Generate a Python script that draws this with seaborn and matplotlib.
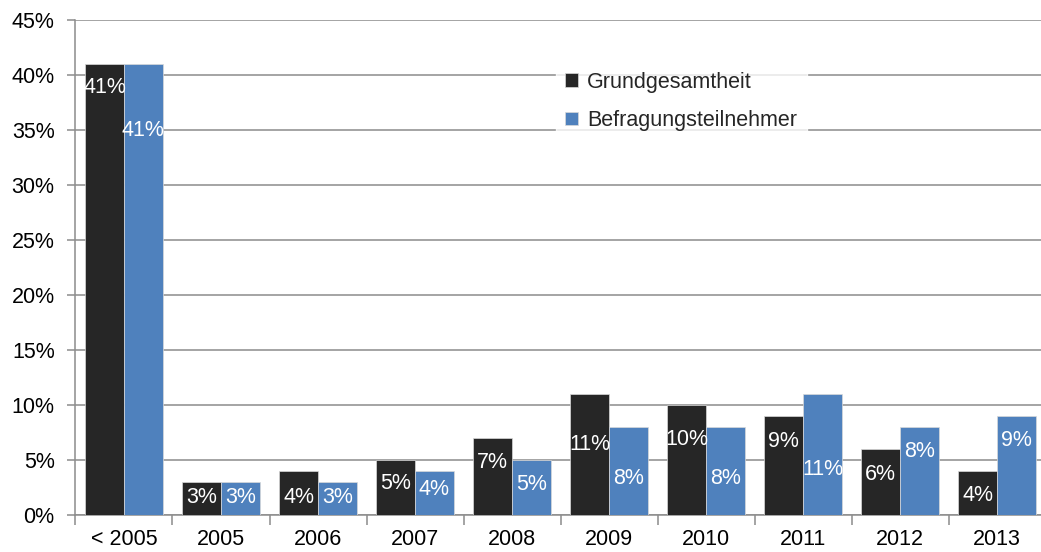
import matplotlib
matplotlib.use("Agg")
import matplotlib.pyplot as plt
import seaborn as sns
import pandas as pd
import numpy as np
from matplotlib.ticker import FixedLocator, FuncFormatter

categories = ["< 2005", "2005", "2006", "2007", "2008", "2009", "2010", "2011", "2012", "2013"]
grund = [41, 3, 4, 5, 7, 11, 10, 9, 6, 4]
befr = [41, 3, 3, 4, 5, 8, 8, 11, 8, 9]
series_names = ["Grundgesamtheit", "Befragungsteilnehmer"]
# label vertical positions (in %) as seen in the reference
grund_label_y = [38.9, 1.6, 1.6, 2.9, 4.8, 6.4, 6.9, 6.7, 3.7, 1.8]
befr_label_y = [35.0, 1.6, 1.6, 2.3, 2.8, 3.3, 3.3, 4.1, 5.8, 6.8]

df = pd.DataFrame({
    "cat": categories * 2,
    "val": grund + befr,
    "series": [series_names[0]] * len(categories) + [series_names[1]] * len(categories),
})

sns.set_theme(style="white")
plt.rcParams["font.family"] = ["Liberation Sans", "DejaVu Sans"]

FS = 15.5

fig = plt.figure(figsize=(10.41, 5.52), dpi=100)
ax = fig.add_axes([0.0725, 0.067, 0.932, 0.8967])

colors = ["#262626", "#4F81BD"]
sns.barplot(data=df, x="cat", y="val", hue="series", palette=colors, ax=ax,
            width=0.8, dodge=True, saturation=1, edgecolor="#d9d9d9", linewidth=0.5,
            order=categories, hue_order=series_names, errorbar=None, zorder=3)

ax.set_ylim(0, 45)
ax.set_xlim(-0.5, len(categories) - 0.5)
ax.yaxis.set_major_locator(FixedLocator(np.arange(0, 46, 5)))
ax.yaxis.set_major_formatter(FuncFormatter(lambda v, p: f"{int(v)}%"))
ax.grid(axis="y", color="#8c8c8c", linewidth=1.1, zorder=0)
ax.set_axisbelow(True)
ax.set_xlabel("")
ax.set_ylabel("")

for s in ["top", "right"]:
    ax.spines[s].set_visible(False)
for s in ["left", "bottom"]:
    ax.spines[s].set_color("#8c8c8c")
    ax.spines[s].set_linewidth(1.1)

ax.tick_params(axis="y", which="major", length=6, width=1.1, color="#8c8c8c",
               labelsize=FS, labelcolor="black", pad=9, left=True)
ax.tick_params(axis="x", which="major", length=0, labelsize=FS, labelcolor="black", pad=10)
ax.set_xticks(np.arange(-0.5, len(categories), 1.0), minor=True)
ax.tick_params(axis="x", which="minor", length=7, width=1.1, color="#8c8c8c", bottom=True)

# data labels
bw = 0.4
for i in range(len(categories)):
    ax.text(i - bw / 2, grund_label_y[i], f"{grund[i]}%", ha="center", va="center",
            color="white", fontsize=FS, zorder=5)
    ax.text(i + bw / 2, befr_label_y[i], f"{befr[i]}%", ha="center", va="center",
            color="white", fontsize=FS, zorder=5)

leg = ax.legend(loc="upper left", bbox_to_anchor=(0.495, 0.915), frameon=True,
                fontsize=FS, handlelength=0.6, handleheight=0.6, handletextpad=0.4,
                labelspacing=0.8, borderpad=0.45, borderaxespad=0, fancybox=False)
leg.get_frame().set_facecolor("white")
leg.get_frame().set_edgecolor("white")
leg.set_zorder(6)

fig.savefig("out.png", dpi=100)
